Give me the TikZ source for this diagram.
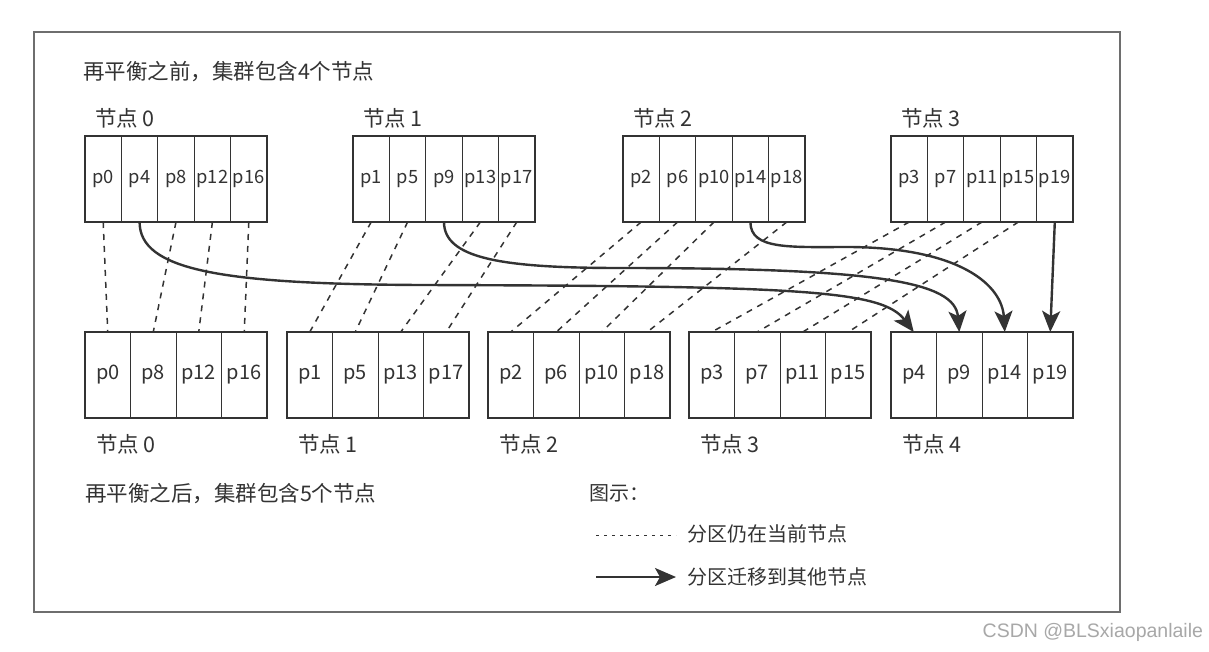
\documentclass[tikz,border=0pt]{standalone}
\usepackage{fontspec}
\setmainfont{Noto Sans CJK SC}
\newfontfamily\wmfont{Liberation Sans}
\usetikzlibrary{arrows.meta}
\definecolor{ink}{HTML}{333333}
\definecolor{framegray}{HTML}{6E6E6E}
\definecolor{wmgray}{HTML}{A8A8A8}
\begin{document}
\begin{tikzpicture}[x=1pt,y=-1pt,
  every node/.style={inner sep=0pt, outer sep=0pt, text=ink},
  ttl/.style={anchor=west, font=\fontsize{21.5}{25}\selectfont},
  nlabel/.style={anchor=west, font=\fontsize{21.5}{25}\selectfont},
  leg/.style={anchor=west, font=\fontsize{20}{24}\selectfont},
  topcell/.style={draw=ink, line width=0.9pt, minimum width=36.4pt, minimum height=86pt, font=\fontsize{18.3}{22}\selectfont},
  botcell/.style={draw=ink, line width=0.9pt, minimum width=45.5pt, minimum height=86pt, font=\fontsize{20}{22}\selectfont},
  outerbox/.style={draw=ink, line width=2pt, minimum height=86pt, minimum width=182pt},
  staydash/.style={draw=ink, line width=1.5pt, dash pattern=on 6pt off 6pt},
  movearrow/.style={draw=ink, line width=2.4pt, -{Stealth[length=21pt,width=18pt,inset=5pt]}},
]
\useasboundingbox (0,0) rectangle (1209,652);
\fill[white] (0,0) rectangle (1209,652);

% outer frame
\draw[framegray, line width=1.4pt] (34,32) rectangle (1120,612);

% titles
\node[ttl] (before) at (83,72) {再平衡之前，集群包含4个节点};
\node[ttl] (after) at (85,494) {再平衡之后，集群包含5个节点};

% top row (before)
\foreach \bx/\bn/\plist in {85/0/{0,4,8,12,16},353/1/{1,5,9,13,17},623/2/{2,6,10,14,18},891/3/{3,7,11,15,19}}{
  \foreach \p [count=\i from 0] in \plist {
    \node[topcell] (tp\p) at ({\bx+18.2+36.4*\i},179) {p\p};
  }
  \node[outerbox] (top\bn) at ({\bx+91},179) {};
  \node[nlabel] (toplab\bn) at ({\bx+10},118) {节点 \bn};
}

% bottom row (after)
\foreach \bx/\bn/\plist in {85/0/{0,8,12,16},287/1/{1,5,13,17},488/2/{2,6,10,18},689/3/{3,7,11,15},891/4/{4,9,14,19}}{
  \foreach \p [count=\i from 0] in \plist {
    \node[botcell] (bp\p) at ({\bx+22.75+45.5*\i},375) {p\p};
  }
  \node[outerbox] (bot\bn) at ({\bx+91},375) {};
  \node[nlabel] (botlab\bn) at ({\bx+11},444) {节点 \bn};
}

% partitions staying on their node
\foreach \p in {0,8,12,16,1,5,13,17,2,6,10,18,3,7,11,15}{
  \draw[staydash] (tp\p.south) -- (bp\p.north);
}

% partitions moving to node 4
\draw[movearrow] (tp4.south) .. controls +(0,48) and (220,284) .. (420,285)
                             .. controls (800,286) and (882,290) .. (bp4.north);
\draw[movearrow] (tp9.south) .. controls +(0,36) and (500,268) .. (620,268)
                             .. controls (880,268) and (955,282) .. (bp9.north);
\draw[movearrow] (tp14.south) .. controls +(0,28) and (790,247) .. (850,247)
                              .. controls (962,248) and (1002,286) .. (bp14.north);
\draw[movearrow] (tp19.south) -- (bp19.north);

% legend
\node[leg] (legtitle) at (589,493) {图示：};
\coordinate (d1) at (596,535);
\coordinate (d2) at (676,535);
\draw[ink, line width=1pt, dash pattern=on 3pt off 5pt] (d1) -- (d2);
\node[leg] (legstay) at (687,534) {分区仍在当前节点};
\coordinate (a1) at (596,577);
\coordinate (a2) at (676,577);
\draw[movearrow, line width=2pt] (a1) -- (a2);
\node[leg] (legmove) at (687,577) {分区迁移到其他节点};

% watermark
\node[anchor=east, font=\wmfont\fontsize{19.5}{22}\selectfont, text=wmgray] (wm) at (1203,632) {CSDN @BLSxiaopanlaile};
\end{tikzpicture}
\end{document}
